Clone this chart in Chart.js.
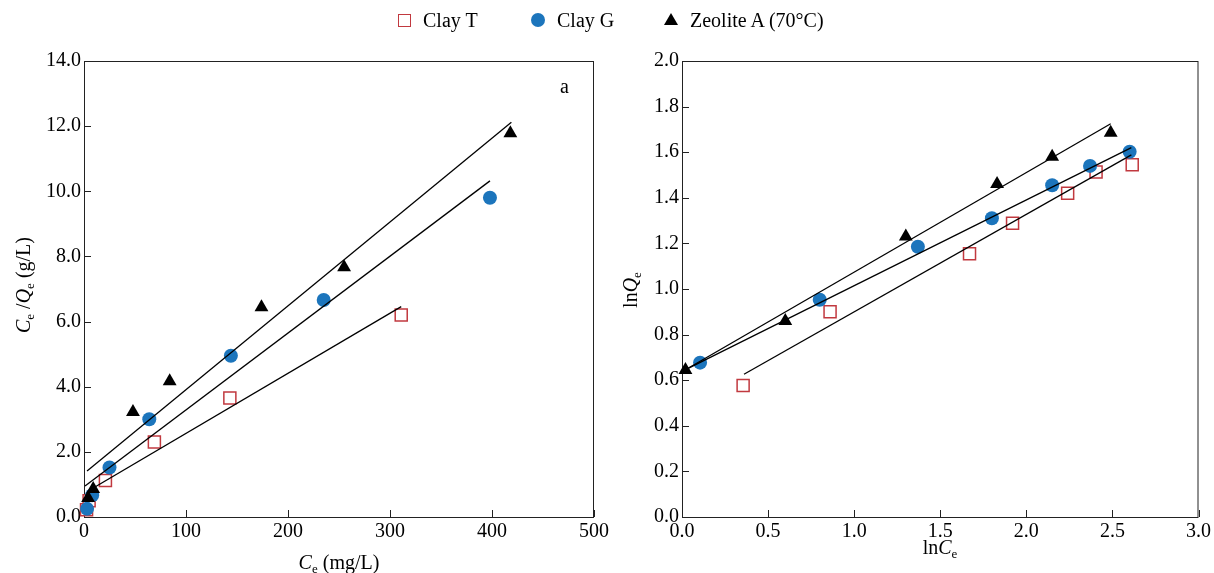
<!DOCTYPE html>
<html>
<head>
<meta charset="utf-8">
<script src="https://cdn.jsdelivr.net/npm/chart.js@4"></script>
<style>
  body { margin: 0; background: #fff; }
  #page { position: relative; width: 1214px; height: 573px; font-family: "Liberation Serif", serif; }
  #left { position: absolute; left: 0; top: 0; }
  #right { position: absolute; left: 620px; top: 0; }
  .legend-text { position: absolute; top: 7px; font-size: 20px; line-height: 26px; color: #000; white-space: nowrap; }
  .mk-square { position: absolute; left: 398px; top: 14px; width: 11px; height: 11px; border: 1.5px solid #c1393f; background: #fff; }
  .mk-circle { position: absolute; left: 531px; top: 13px; width: 14px; height: 14px; border-radius: 50%; background: #1c75bc; }
  .mk-tri { position: absolute; left: 664px; top: 13px; width: 0; height: 0; border-left: 7px solid transparent; border-right: 7px solid transparent; border-bottom: 12px solid #000; }
</style>
</head>
<body>
<div id="page">
  <canvas id="left" width="620" height="573"></canvas>
  <canvas id="right" width="594" height="573"></canvas>
  <div class="mk-square"></div><span class="legend-text" style="left:423px">Clay T</span>
  <div class="mk-circle"></div><span class="legend-text" style="left:557px">Clay G</span>
  <div class="mk-tri"></div><span class="legend-text" style="left:690px">Zeolite A (70°C)</span>
</div>
<script>
// Langmuir plot (left): Ce vs Ce/Qe
const clayTCe = [2.5, 5, 21, 69, 143, 311];
const clayTRatio = [0.22, 0.5, 1.12, 2.3, 3.65, 6.2];
const clayGCe = [3, 8, 25, 64, 144, 235, 398];
const clayGRatio = [0.25, 0.67, 1.52, 3.0, 4.95, 6.66, 9.8];
const zeoCe = [4, 9, 48, 84, 174, 255, 418];
const zeoRatio = [0.58, 0.86, 3.22, 4.17, 6.44, 7.67, 11.78];

// fitted lines on the left plot (end points)
const zeoFitCe = [3, 419];
const zeoFitRatio = [1.41, 12.12];
const clayGFitCe = [1, 398];
const clayGFitRatio = [0.95, 10.32];
const clayTFitCe = [7, 311];
const clayTFitRatio = [0.85, 6.46];

// Freundlich plot (right): lnCe vs lnQe
const zeoLnC = [0.02, 0.6, 1.3, 1.83, 2.15, 2.49];
const zeoLnQ = [0.645, 0.86, 1.23, 1.46, 1.58, 1.685];
const clayGLnC = [0.105, 0.8, 1.37, 1.8, 2.15, 2.37, 2.6];
const clayGLnQ = [0.677, 0.953, 1.185, 1.31, 1.455, 1.54, 1.602];
const clayTLnC = [0.355, 0.86, 1.67, 1.92, 2.24, 2.405, 2.615];
const clayTLnQ = [0.577, 0.9, 1.155, 1.288, 1.42, 1.513, 1.545];

const zeoFitLnC = [0.03, 2.49];
const zeoFitLnQ = [0.65, 1.725];
const clayGFitLnC = [0.03, 2.61];
const clayGFitLnQ = [0.65, 1.62];
const clayTFitLnC = [0.36, 2.61];
const clayTFitLnQ = [0.626, 1.588];

// axis ticks
const leftXTicks = [0, 100, 200, 300, 400, 500];
const leftYTicks = [0, 2, 4, 6, 8, 10, 12, 14];
const rightXTicks = [0, 0.5, 1.0, 1.5, 2.0, 2.5, 3.0];
const rightYTicks = [0, 0.2, 0.4, 0.6, 0.8, 1.0, 1.2, 1.4, 1.6, 1.8, 2.0];

const RED = '#c1393f';
const BLUE = '#1c75bc';
const FONT = '"Liberation Serif", "Times New Roman", serif';

function pts(xs, ys) {
    return xs.map((x, i) => ({ x: x, y: ys[i] }));
}

function fitLine(xs, ys) {
    return {
        type: 'line', data: pts(xs, ys), borderColor: '#000', borderWidth: 1.3,
        pointRadius: 0, fill: false, order: 0, clip: false
    };
}

function markers(type, xs, ys) {
    if (type === 'T') {
        return { data: pts(xs, ys), pointStyle: 'rect', pointRadius: 8.5, backgroundColor: '#fff',
                 borderColor: RED, borderWidth: 1.5, order: 3, clip: false };
    }
    if (type === 'G') {
        return { data: pts(xs, ys), pointStyle: 'circle', pointRadius: 7, backgroundColor: BLUE,
                 borderWidth: 0, order: 2, clip: false };
    }
    return { data: pts(xs, ys), pointStyle: 'triangle', pointRadius: 8, backgroundColor: '#000',
             borderColor: '#000', borderWidth: 0, order: 1, clip: false };
}

// frame around the plot area plus ticks pointing inwards
const frameTicks = {
    id: 'frameTicks',
    beforeDatasetsDraw(chart) {
        const ctx = chart.ctx;
        const a = chart.chartArea;
        ctx.save();
        ctx.strokeStyle = '#222';
        ctx.lineWidth = 1;
        ctx.strokeRect(a.left + 0.5, a.top + 0.5, a.right - a.left - 1, a.bottom - a.top);
        ctx.beginPath();
        chart.scales.x.ticks.forEach(t => {
            const px = Math.round(chart.scales.x.getPixelForValue(t.value)) + 0.5;
            ctx.moveTo(px, a.bottom);
            ctx.lineTo(px, a.bottom - 7);
        });
        chart.scales.y.ticks.forEach(t => {
            const py = Math.round(chart.scales.y.getPixelForValue(t.value)) + 0.5;
            ctx.moveTo(a.left, py);
            ctx.lineTo(a.left + 7, py);
        });
        ctx.stroke();
        ctx.restore();
    }
};

// axis titles with italic letters and subscripts
const richText = {
    id: 'richText',
    afterDraw(chart, args, opts) {
        const ctx = chart.ctx;
        (opts.items || []).forEach(item => {
            ctx.save();
            ctx.translate(item.x, item.y);
            if (item.rotate) ctx.rotate(item.rotate);
            const parts = item.parts.map(p => {
                const font = (p.italic ? 'italic ' : '') + (p.sub ? 13 : 20) + 'px ' + FONT;
                ctx.font = font;
                return { text: p.text, font: font, sub: p.sub, w: ctx.measureText(p.text).width };
            });
            let x = item.align === 'left' ? 0 : -parts.reduce((s, p) => s + p.w, 0) / 2;
            ctx.fillStyle = '#000';
            ctx.textBaseline = 'alphabetic';
            ctx.textAlign = 'left';
            parts.forEach(p => {
                ctx.font = p.font;
                ctx.fillText(p.text, x, p.sub ? 4 : 0);
                x += p.w;
            });
            ctx.restore();
        });
    }
};

function axis(min, max, tickValues, decimals, size) {
    return {
        type: 'linear', min: min, max: max,
        afterBuildTicks: s => { s.ticks = tickValues.map(v => ({ value: v })); },
        afterFit: s => { if (s.isHorizontal()) s.height = size; else s.width = size; },
        ticks: {
            color: '#000', padding: 3, font: { family: FONT, size: 20 },
            callback: v => v.toFixed(decimals)
        },
        grid: { display: false, drawTicks: false },
        border: { display: false }
    };
}

function baseOptions(padRight, xScale, yScale, items) {
    return {
        responsive: false,
        animation: false,
        layout: { padding: { top: 61, right: padRight, left: 0, bottom: 0 } },
        plugins: {
            legend: { display: false },
            tooltip: { enabled: false },
            richText: { items: items }
        },
        scales: { x: xScale, y: yScale }
    };
}

new Chart(document.getElementById('left'), {
    type: 'scatter',
    data: {
        datasets: [
            fitLine(zeoFitCe, zeoFitRatio),
            fitLine(clayGFitCe, clayGFitRatio),
            fitLine(clayTFitCe, clayTFitRatio),
            markers('Z', zeoCe, zeoRatio),
            markers('G', clayGCe, clayGRatio),
            markers('T', clayTCe, clayTRatio)
        ]
    },
    options: baseOptions(26,
        axis(0, 500, leftXTicks, 0, 56),
        axis(0, 14, leftYTicks, 1, 84),
        [
            { x: 339, y: 569, parts: [{ text: 'C', italic: true }, { text: 'e', sub: true }, { text: ' (mg/L)' }] },
            { x: 30, y: 285, rotate: -Math.PI / 2, parts: [{ text: 'C', italic: true }, { text: 'e', sub: true }, { text: ' /' }, { text: 'Q', italic: true }, { text: 'e', sub: true }, { text: ' (g/L)' }] },
            { x: 560, y: 93, align: 'left', parts: [{ text: 'a' }] }
        ]),
    plugins: [frameTicks, richText]
});

new Chart(document.getElementById('right'), {
    type: 'scatter',
    data: {
        datasets: [
            fitLine(zeoFitLnC, zeoFitLnQ),
            fitLine(clayGFitLnC, clayGFitLnQ),
            fitLine(clayTFitLnC, clayTFitLnQ),
            markers('Z', zeoLnC, zeoLnQ),
            markers('G', clayGLnC, clayGLnQ),
            markers('T', clayTLnC, clayTLnQ)
        ]
    },
    options: baseOptions(14,
        axis(0, 3, rightXTicks, 1, 56),
        axis(0, 2, rightYTicks, 1, 62),
        [
            { x: 320, y: 554, parts: [{ text: 'ln' }, { text: 'C', italic: true }, { text: 'e', sub: true }] },
            { x: 17, y: 290, rotate: -Math.PI / 2, parts: [{ text: 'ln' }, { text: 'Q', italic: true }, { text: 'e', sub: true }] }
        ]),
    plugins: [frameTicks, richText]
});
</script>
</body>
</html>
